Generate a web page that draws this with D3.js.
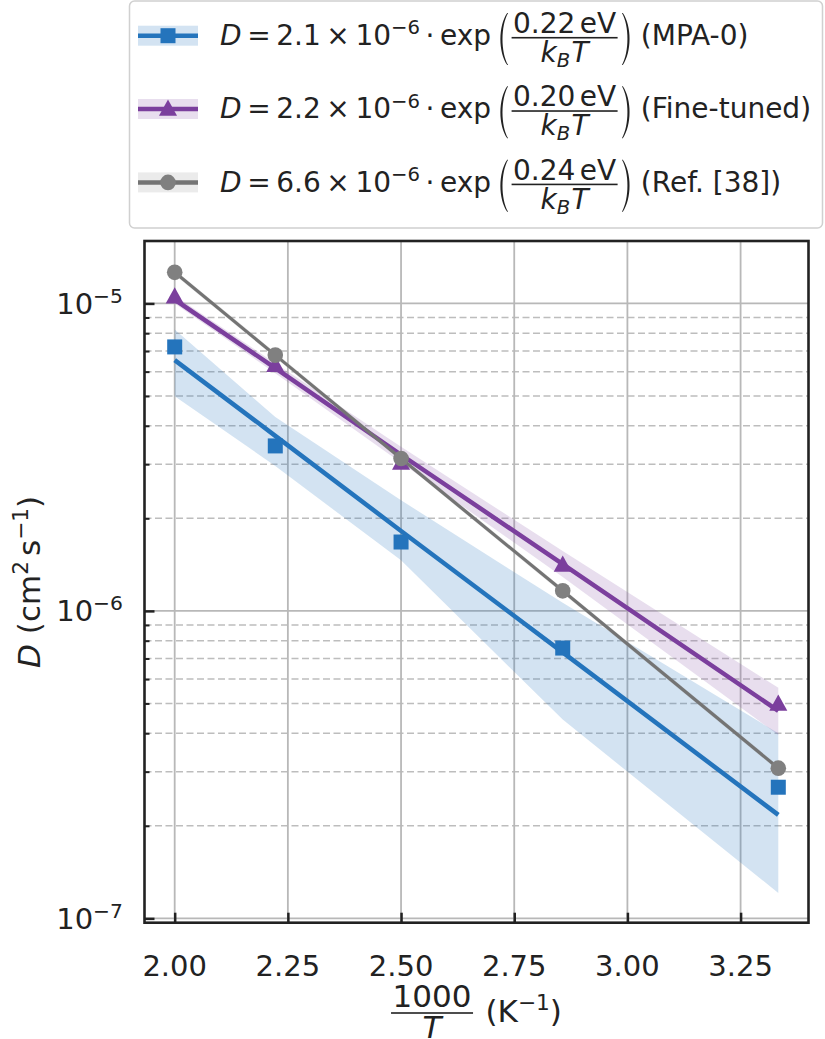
<!DOCTYPE html>
<html><head><meta charset="utf-8">
<script src="https://cdn.jsdelivr.net/npm/d3@7"></script>
<style>
body{margin:0;background:#fff;}
svg text{font-family:"DejaVu Sans",sans-serif;fill:#222;white-space:pre;}
</style></head>
<body><svg id="c" width="825" height="1039"></svg>
<script>
// ---------------- data ----------------
const invT = [2.0, 2.2222, 2.5, 2.8571, 3.3333];           // 1000/T (K^-1)
const seriesNames = ["MPA-0", "Fine-tuned", "Ref. [38]"];
const mpaPoints = [7.22e-6, 3.44e-6, 1.675e-6, 7.57e-7, 2.67e-7];
const mpaFit    = [6.54e-6, 3.71e-6, 1.82e-6, 7.33e-7, 2.17e-7];
const mpaUpper  = [8.23e-6, 4.27e-6, 2.29e-6, 1.062e-6, 4.00e-7];
const mpaLower  = [4.99e-6, 2.96e-6, 1.46e-6, 4.43e-7, 1.21e-7];
const ftPoints  = [1.052e-5, 6.30e-6, 3.03e-6, 1.41e-6, 4.98e-7];
const ftFit     = [1.029e-5, 6.16e-6, 3.22e-6, 1.42e-6, 4.73e-7];
const ftUpper   = [1.06e-5, 6.39e-6, 3.42e-6, 1.565e-6, 5.62e-7];
const ftLower   = [9.99e-6, 5.93e-6, 3.03e-6, 1.29e-6, 3.95e-7];
const refPoints = [1.262e-5, 6.79e-6, 3.13e-6, 1.162e-6, 3.08e-7];
const refFit    = [1.262e-5, 6.79e-6, 3.13e-6, 1.162e-6, 3.08e-7];
const refUpper  = [1.287e-5, 6.93e-6, 3.19e-6, 1.185e-6, 3.14e-7];
const refLower  = [1.237e-5, 6.66e-6, 3.07e-6, 1.139e-6, 3.02e-7];
const legendPrefactors = ["2.1", "2.2", "6.6"];
const legendEnergies = ["0.22", "0.20", "0.24"];
const xTicks = [2.00, 2.25, 2.50, 2.75, 3.00, 3.25];
const xTickLabels = ["2.00", "2.25", "2.50", "2.75", "3.00", "3.25"];
const yMajorTicks = [1e-7, 1e-6, 1e-5];
const yMajorExp = ["−7", "−6", "−5"];
const yMinorTicks = [2e-7,3e-7,4e-7,5e-7,6e-7,7e-7,8e-7,9e-7,2e-6,3e-6,4e-6,5e-6,6e-6,7e-6,8e-6,9e-6];
const xLimits = [1.9333, 3.4];
const yLimits = [9.68e-8, 1.596e-5];

// ---------------- style ----------------
const colors = ["#2474bc", "#7b3f9d", "#747474"];
const markerColors = ["#2474bc", "#7b3f9d", "#808080"];
const bandColors = ["#2474bc", "#8e5aab", "#9a9a9a"];
const FS = 28;      // legend
const TFS = 29;     // tick labels
const LFS = 31;     // axis labels
const M = {l: 144.5, r: 808.5, t: 241, b: 922.7};

const svg = d3.select("#c");
const x = d3.scaleLinear().domain(xLimits).range([M.l, M.r]);
const y = d3.scaleLog().domain(yLimits).range([M.b, M.t]);

// measuring helper
const meas = svg.append("text").attr("x", -1000).attr("y", -1000);
function mw(str, size, italic) {
  meas.attr("font-size", size).style("font-style", italic ? "italic" : "normal").text(str);
  return meas.node().getComputedTextLength();
}
function put(g, xx, yy, str, size, italic, anchor) {
  const t = g.append("text").attr("x", xx).attr("y", yy).attr("font-size", size).text(str);
  if (italic) t.style("font-style", "italic");
  if (anchor) t.attr("text-anchor", anchor);
  return mw(str, size, italic);
}
function paren(g, xx, top, bot, left) {
  const w = 9, h = bot - top, th = 2.5;
  let p;
  if (left) {
    p = `M${xx + w},${top} C${xx},${top + h * 0.25} ${xx},${bot - h * 0.25} ${xx + w},${bot}
         L${xx + w + 0.9},${bot} C${xx + th},${bot - h * 0.25} ${xx + th},${top + h * 0.25} ${xx + w + 0.9},${top} Z`;
  } else {
    p = `M${xx},${top} C${xx + w},${top + h * 0.25} ${xx + w},${bot - h * 0.25} ${xx},${bot}
         L${xx - 0.9},${bot} C${xx + w - th},${bot - h * 0.25} ${xx + w - th},${top + h * 0.25} ${xx - 0.9},${top} Z`;
  }
  g.append("path").attr("d", p).attr("fill", "#222");
}
function drawMarker(g, i, cx, cy) {
  if (i === 0) {
    g.append("rect").attr("x", cx - 7.5).attr("y", cy - 7.5).attr("width", 15).attr("height", 15)
      .attr("fill", markerColors[0]);
  } else if (i === 1) {
    const s = 9.5;
    g.append("path").attr("d", `M${cx},${cy - s} L${cx + s * 0.95},${cy + s * 0.72} L${cx - s * 0.95},${cy + s * 0.72} Z`)
      .attr("fill", markerColors[1]);
  } else {
    g.append("circle").attr("cx", cx).attr("cy", cy).attr("r", 7.8).attr("fill", markerColors[2]);
  }
}

// ---------------- legend ----------------
const lg = svg.append("g");
lg.append("rect").attr("x", 129.5).attr("y", 1).attr("width", 693).attr("height", 227)
  .attr("rx", 5).attr("fill", "#fff").attr("stroke", "#d0d0d0").attr("stroke-width", 1.5);

const rowBase = [45, 118.3, 191.7];
const sp = 0.2 * FS;
for (let i = 0; i < 3; i++) {
  const base = rowBase[i];
  const hy = base - 9.3;
  lg.append("rect").attr("x", 138).attr("y", hy - 10).attr("width", 60).attr("height", 20)
    .attr("fill", bandColors[i]).attr("fill-opacity", 0.2);
  lg.append("line").attr("x1", 138).attr("x2", 198).attr("y1", hy).attr("y2", hy)
    .attr("stroke", colors[i]).attr("stroke-width", 4.5);
  drawMarker(lg, i, 168, hy);
  let cx = 220;
  cx += put(lg, cx, base, "D", FS, true);
  cx += sp; cx += put(lg, cx, base, "=", FS); cx += sp;
  cx += put(lg, cx, base, legendPrefactors[i], FS); cx += sp;
  cx += put(lg, cx, base, "×", FS); cx += sp;
  cx += put(lg, cx, base, "10", FS);
  cx += put(lg, cx, base - 0.38 * FS, "−6", 0.7 * FS);
  cx += sp; cx += put(lg, cx, base, "·", FS); cx += sp;
  cx += put(lg, cx, base, "exp", FS);
  cx += 0.18 * FS;
  const bar = base - 0.26 * FS;
  const top = base - 32, bot = base + 20;
  paren(lg, cx + 2, top, bot, true);
  cx += 0.55 * FS;
  const nw1 = mw(legendEnergies[i], FS), nw2 = mw("eV", FS);
  const numW = nw1 + 0.16 * FS + nw2;
  const dk = mw("k", FS, true), dB = mw("B", 0.7 * FS, true), dT = mw("T", FS, true);
  const denW = dk + dB + 0.05 * FS + dT;
  const fw = Math.max(numW, denW) + 0.1 * FS;
  const nx = cx + (fw - numW) / 2, nb = bar - 0.17 * FS;
  put(lg, nx, nb, legendEnergies[i], FS);
  put(lg, nx + nw1 + 0.16 * FS, nb, "eV", FS);
  lg.append("rect").attr("x", cx).attr("y", bar - 0.8).attr("width", fw).attr("height", 1.6).attr("fill", "#222");
  let dx = cx + (fw - denW) / 2; const db = bar + 0.87 * FS;
  dx += put(lg, dx, db, "k", FS, true);
  dx += put(lg, dx, db + 0.18 * FS, "B", 0.7 * FS, true);
  dx += 0.05 * FS;
  put(lg, dx, db, "T", FS, true);
  cx += fw + 0.08 * FS;
  paren(lg, cx + 3, top, bot, false);
  cx += 0.55 * FS;
  cx += 0.2 * FS;
  put(lg, cx, base, "(" + seriesNames[i] + ")", FS);
}

// ---------------- plot ----------------
const pg = svg.append("g");
pg.append("g").selectAll("line").data(yMinorTicks).join("line")
  .attr("x1", M.l).attr("x2", M.r).attr("y1", d => y(d)).attr("y2", d => y(d))
  .attr("stroke", "#bdbdbd").attr("stroke-width", 1.5).attr("stroke-dasharray", "7,3.5");
pg.append("g").selectAll("line").data(yMajorTicks).join("line")
  .attr("x1", M.l).attr("x2", M.r).attr("y1", d => y(d)).attr("y2", d => y(d))
  .attr("stroke", "#b8b8b8").attr("stroke-width", 1.8);
pg.append("g").selectAll("line").data(xTicks).join("line")
  .attr("x1", d => x(d)).attr("x2", d => x(d)).attr("y1", M.t).attr("y2", M.b)
  .attr("stroke", "#b8b8b8").attr("stroke-width", 1.8);

const series = [
  {pts: mpaPoints, fit: mpaFit, up: mpaUpper, lo: mpaLower, lw: 4.5},
  {pts: ftPoints, fit: ftFit, up: ftUpper, lo: ftLower, lw: 4.5},
  {pts: refPoints, fit: refFit, up: refUpper, lo: refLower, lw: 3.2}
];
series.forEach((s, i) => {
  const rows = invT.map((v, k) => ({x: v, p: s.pts[k], f: s.fit[k], u: s.up[k], l: s.lo[k]}));
  pg.append("path").datum(rows)
    .attr("d", d3.area().x(d => x(d.x)).y0(d => y(d.l)).y1(d => y(d.u)))
    .attr("fill", bandColors[i]).attr("fill-opacity", 0.2);
  pg.append("path").datum(rows)
    .attr("d", d3.line().x(d => x(d.x)).y(d => y(d.f)))
    .attr("fill", "none").attr("stroke", colors[i]).attr("stroke-width", s.lw);
  rows.forEach(d => drawMarker(pg, i, x(d.x), y(d.p)));
});

// ticks (inward)
const ag = svg.append("g");
ag.append("g").attr("transform", `translate(${M.l},0)`)
  .call(d3.axisLeft(y).tickValues(yMajorTicks).tickSize(-10).tickFormat(""))
  .call(g => g.select(".domain").remove())
  .call(g => g.selectAll(".tick line").attr("stroke", "#222").attr("stroke-width", 2.5));
ag.append("g").attr("transform", `translate(${M.l},0)`)
  .call(d3.axisLeft(y).tickValues(yMinorTicks).tickSize(-5).tickFormat(""))
  .call(g => g.select(".domain").remove())
  .call(g => g.selectAll(".tick line").attr("stroke", "#222").attr("stroke-width", 2));
ag.append("g").attr("transform", `translate(0,${M.b})`)
  .call(d3.axisBottom(x).tickValues(xTicks).tickSize(-10).tickFormat(""))
  .call(g => g.select(".domain").remove())
  .call(g => g.selectAll(".tick line").attr("stroke", "#222").attr("stroke-width", 2.5));
ag.append("rect").attr("x", M.l).attr("y", M.t).attr("width", M.r - M.l).attr("height", M.b - M.t)
  .attr("fill", "none").attr("stroke", "#222").attr("stroke-width", 2.6);

// tick labels
xTicks.forEach((v, k) => put(ag, x(v), 976, xTickLabels[k], TFS, false, "middle"));
yMajorTicks.forEach((v, k) => {
  const ws = mw(yMajorExp[k], 0.7 * TFS), w10 = mw("10", TFS);
  const xr = 123, yy = y(v) + 0.36 * TFS;
  put(ag, xr - ws - w10, yy, "10", TFS);
  put(ag, xr - ws, yy - 0.38 * TFS, yMajorExp[k], 0.7 * TFS);
});

// y label
(function () {
  const g = ag.append("g").attr("transform", `translate(40,${(M.t + M.b) / 2}) rotate(-90)`);
  const parts = [
    {t: "D", s: LFS, it: true, dy: 0, gap: 0.32 * LFS}, {t: "(cm", s: LFS, dy: 0}, {t: "2", s: 0.7 * LFS, dy: -0.38 * LFS, gap: 0.16 * LFS},
    {t: "s", s: LFS, dy: 0}, {t: "−1", s: 0.7 * LFS, dy: -0.38 * LFS}, {t: ")", s: LFS, dy: 0}
  ];
  const tot = d3.sum(parts, p => mw(p.t, p.s, p.it) + (p.gap || 0));
  let cx = -tot / 2;
  parts.forEach(p => { cx += put(g, cx, p.dy, p.t, p.s, p.it) + (p.gap || 0); });
})();

// x label
(function () {
  const g = ag.append("g");
  const base = 1022, bar = 1013;
  const nw = mw("1000", LFS), tw = mw("T", LFS, true);
  const fw = nw + 0.1 * LFS;
  const gap = 0.4 * LFS;
  const tail = [{t: "(K", s: LFS, dy: 0}, {t: "−1", s: 0.7 * LFS, dy: -0.38 * LFS}, {t: ")", s: LFS, dy: 0}];
  const tailW = d3.sum(tail, p => mw(p.t, p.s));
  const tot = fw + gap + tailW;
  let cx = (M.l + M.r) / 2 - tot / 2;
  put(g, cx + (fw - nw) / 2, bar - 6, "1000", LFS);
  g.append("rect").attr("x", cx).attr("y", bar - 0.8).attr("width", fw).attr("height", 1.6).attr("fill", "#222");
  put(g, cx + (fw - tw) / 2, bar + 25, "T", LFS, true);
  cx += fw + gap;
  tail.forEach(p => { cx += put(g, cx, base + p.dy, p.t, p.s); });
})();
meas.remove();
</script>
</body></html>
